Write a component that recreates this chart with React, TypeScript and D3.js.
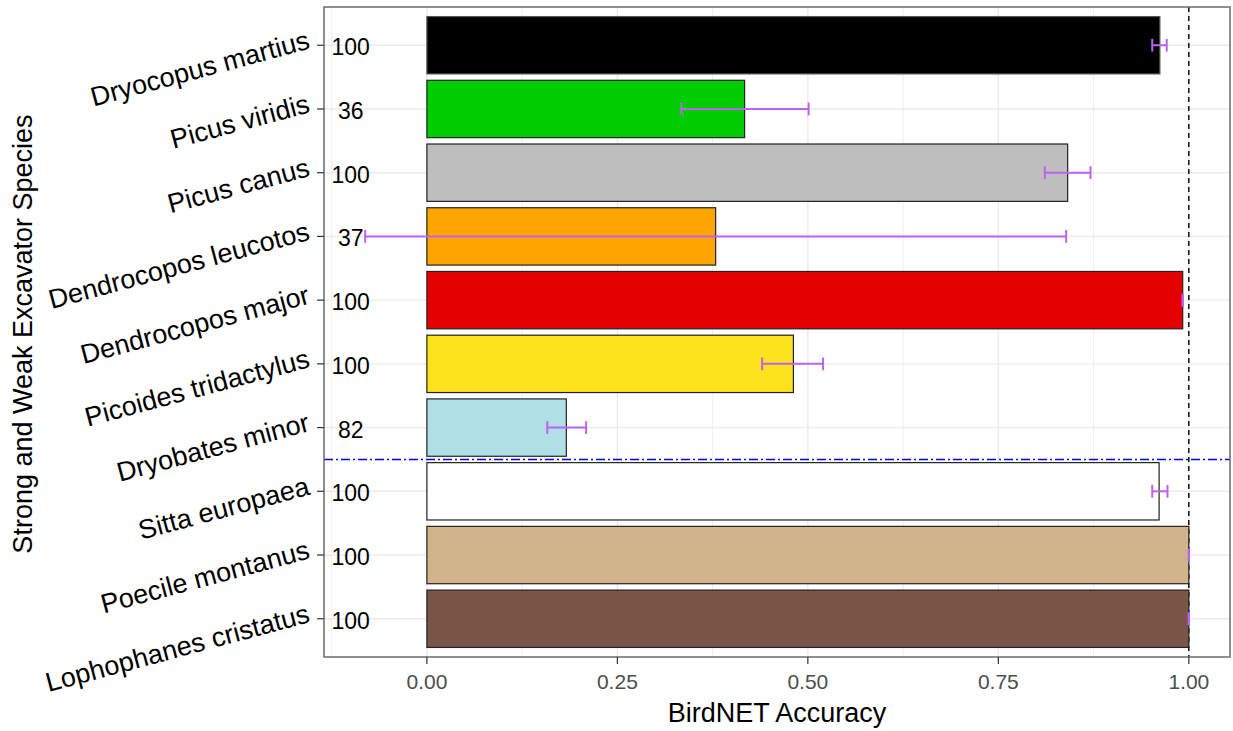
import React, { useEffect, useRef } from "react";
import * as d3 from "d3";

const species = [
  "Dryocopus martius",
  "Picus viridis",
  "Picus canus",
  "Dendrocopos leucotos",
  "Dendrocopos major",
  "Picoides tridactylus",
  "Dryobates minor",
  "Sitta europaea",
  "Poecile montanus",
  "Lophophanes cristatus",
];
const accuracy = [0.962, 0.417, 0.841, 0.379, 0.992, 0.481, 0.183, 0.961, 1.0, 1.0];
const errLow = [0.952, 0.334, 0.811, -0.081, 0.992, 0.44, 0.158, 0.952, 1.0, 1.0];
const errHigh = [0.971, 0.501, 0.871, 0.839, 0.992, 0.52, 0.209, 0.972, 1.0, 1.0];
const counts = [100, 36, 100, 37, 100, 100, 82, 100, 100, 100];
const barColors = [
  "#000000",
  "#00CD00",
  "#BEBEBE",
  "#FFA500",
  "#E50000",
  "#FDE21E",
  "#B0E0E6",
  "#FFFFFF",
  "#D2B48C",
  "#795548",
];
const xTicks = [0, 0.25, 0.5, 0.75, 1.0];
const xMinor = [-0.125, 0.125, 0.375, 0.625, 0.875];
const separatorAfter = "Dryobates minor";
const refLine = 1.0;
const countLabelX = -0.1;

const W = 1233;
const H = 731;
const FONT = "'Liberation Sans', Arial, sans-serif";

const App = () => {
  const ref = useRef<SVGSVGElement>(null);

  useEffect(() => {
    const svg = d3.select(ref.current);
    svg.selectAll("*").remove();

    const left = 324, right = 1230, top = 7, bottom = 657;

    // x domain: data extent + 5% like ggplot
    const lo = Math.min(0, d3.min(errLow)!, d3.min(accuracy)!);
    const hi = Math.max(d3.max(errHigh)!, d3.max(accuracy)!);
    const pad = (hi - lo) * 0.05;
    const x = d3.scaleLinear().domain([lo - pad, hi + pad]).range([left, right]);
    const y = d3.scalePoint<string>().domain(species).range([top, bottom]).padding(0.6);
    const step = y.step();
    const barH = step * 0.9;

    const g = svg.append("g");

    // grid
    g.selectAll(".vminor")
      .data(xMinor)
      .join("line")
      .attr("x1", (d) => x(d)).attr("x2", (d) => x(d))
      .attr("y1", top).attr("y2", bottom)
      .attr("stroke", "#EBEBEB").attr("stroke-width", 0.8);
    g.selectAll(".vmajor")
      .data(xTicks)
      .join("line")
      .attr("x1", (d) => x(d)).attr("x2", (d) => x(d))
      .attr("y1", top).attr("y2", bottom)
      .attr("stroke", "#EBEBEB").attr("stroke-width", 1.4);
    g.selectAll(".hmajor")
      .data(species)
      .join("line")
      .attr("x1", left).attr("x2", right)
      .attr("y1", (d) => y(d)!).attr("y2", (d) => y(d)!)
      .attr("stroke", "#EBEBEB").attr("stroke-width", 1.4);

    // reference lines (under bars)
    g.append("line")
      .attr("x1", x(refLine)).attr("x2", x(refLine))
      .attr("y1", top).attr("y2", bottom)
      .attr("stroke", "#000").attr("stroke-width", 1.4)
      .attr("stroke-dasharray", "5,4");
    const si = species.indexOf(separatorAfter);
    const sepY = (y(species[si])! + y(species[si + 1])!) / 2;
    g.append("line")
      .attr("x1", left).attr("x2", right)
      .attr("y1", sepY).attr("y2", sepY)
      .attr("stroke", "#0000FF").attr("stroke-width", 1.6)
      .attr("stroke-dasharray", "9,3,2,3");

    // bars
    g.selectAll(".bar")
      .data(species)
      .join("rect")
      .attr("x", x(0))
      .attr("y", (d) => y(d)! - barH / 2)
      .attr("width", (d, i) => x(accuracy[i]) - x(0))
      .attr("height", barH)
      .attr("fill", (d, i) => barColors[i])
      .attr("stroke", (d, i) => (i === 0 ? "#555" : "#222"))
      .attr("stroke-width", 1.2);

    // error bars
    const capH = step * 0.2;
    const eb = g.selectAll(".eb").data(species).join("g").attr("stroke", "#BC62F4").attr("stroke-width", 2);
    eb.append("line")
      .attr("x1", (d, i) => x(errLow[i])).attr("x2", (d, i) => x(errHigh[i]))
      .attr("y1", (d) => y(d)!).attr("y2", (d) => y(d)!);
    eb.append("line")
      .attr("x1", (d, i) => x(errLow[i])).attr("x2", (d, i) => x(errLow[i]))
      .attr("y1", (d) => y(d)! - capH / 2).attr("y2", (d) => y(d)! + capH / 2);
    eb.append("line")
      .attr("x1", (d, i) => x(errHigh[i])).attr("x2", (d, i) => x(errHigh[i]))
      .attr("y1", (d) => y(d)! - capH / 2).attr("y2", (d) => y(d)! + capH / 2);

    // count labels
    g.selectAll(".cnt")
      .data(species)
      .join("text")
      .attr("x", x(countLabelX))
      .attr("y", (d) => y(d)! + 2)
      .attr("dy", "0.35em")
      .attr("text-anchor", "middle")
      .attr("font-family", FONT)
      .attr("font-size", 23)
      .attr("fill", "#000")
      .text((d, i) => counts[i]);

    // panel border
    g.append("rect")
      .attr("x", left).attr("y", top)
      .attr("width", right - left).attr("height", bottom - top)
      .attr("fill", "none").attr("stroke", "#6b6b6b").attr("stroke-width", 1.5);

    // x axis ticks + labels
    const xa = g.selectAll(".xt").data(xTicks).join("g")
      .attr("transform", (d) => `translate(${x(d)},${bottom})`);
    xa.append("line").attr("y1", 0).attr("y2", 7).attr("stroke", "#333").attr("stroke-width", 1.2);
    xa.append("text")
      .attr("y", 32)
      .attr("text-anchor", "middle")
      .attr("font-family", FONT)
      .attr("font-size", 21)
      .attr("fill", "#4D4D4D")
      .text((d) => d3.format(".2f")(d));

    // y axis ticks + labels
    const ya = g.selectAll(".yt").data(species).join("g")
      .attr("transform", (d) => `translate(${left},${y(d)})`);
    ya.append("line").attr("x1", -7).attr("x2", 0).attr("stroke", "#333").attr("stroke-width", 1.2);
    ya.append("text")
      .attr("transform", "translate(-13,3) rotate(-15)")
      .attr("text-anchor", "end")
      .attr("font-family", FONT)
      .attr("font-size", 27)
      .attr("fill", "#000")
      .text((d) => d);

    // titles
    g.append("text")
      .attr("x", (left + right) / 2)
      .attr("y", 722)
      .attr("text-anchor", "middle")
      .attr("font-family", FONT)
      .attr("font-size", 27)
      .attr("fill", "#000")
      .text("BirdNET Accuracy");
    g.append("text")
      .attr("transform", `translate(32,${(top + bottom) / 2 + 2}) rotate(-90)`)
      .attr("text-anchor", "middle")
      .attr("font-family", FONT)
      .attr("font-size", 27)
      .attr("fill", "#000")
      .text("Strong and Weak Excavator Species");
  }, []);

  return (
    <svg
      ref={ref}
      width={W}
      height={H}
      style={{ position: "absolute", left: 0, top: 0, background: "#fff" }}
    />
  );
};

export default App;
